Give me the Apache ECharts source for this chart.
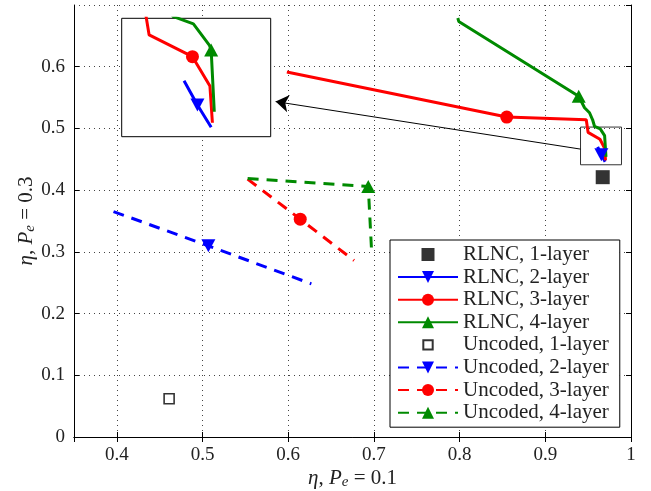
<!DOCTYPE html>
<html><head><meta charset="utf-8">
<script src="https://cdn.jsdelivr.net/npm/echarts@6/dist/echarts.min.js"></script>
<style>html,body{margin:0;padding:0;background:#fff}#c{width:651px;height:491px}</style>
</head><body><div id="c"></div>
<script>
const FONT = 'Liberation Serif';
const TXT = '#222';

// axis ranges
const xRange = [0.35, 1];
const yRange = [0, 0.7];
// zoomed inset region (data coords) and arrow annotation
const insetX = [0.9411, 0.9889];
const insetY = [0.4411, 0.5022];
const arrowFrom = [0.9411, 0.4665];
const arrowTo = [0.5853, 0.5435];

const seriesNames = ['RLNC, 1-layer', 'RLNC, 2-layer', 'RLNC, 3-layer', 'RLNC, 4-layer',
  'Uncoded, 1-layer', 'Uncoded, 2-layer', 'Uncoded, 3-layer', 'Uncoded, 4-layer'];

// data points [x, y]
const rlnc1 = [[0.967, 0.421]];
const rlnc2 = [[0.9611, 0.4700], [0.9654, 0.4575], [0.9698, 0.4460]];
const rlnc3 = [[0.5984, 0.5914], [0.855, 0.5184], [0.9478, 0.514], [0.9499, 0.4936],
  [0.9638, 0.4824], [0.9694, 0.4673], [0.9702, 0.4483]];
const rlnc4 = [[0.7979, 0.6789], [0.799, 0.6734], [0.939, 0.552], [0.9458, 0.5335],
  [0.9516, 0.5254], [0.9552, 0.514], [0.9575, 0.5032], [0.9641, 0.4993],
  [0.9692, 0.4884], [0.9698, 0.4858], [0.9708, 0.4540]];
const unc1 = [[0.461, 0.062]];
const unc2 = [[0.3961, 0.3653], [0.5068, 0.3097], [0.627, 0.2482]];
const unc3 = [[0.5526, 0.4178], [0.614, 0.353], [0.6768, 0.286]];
const unc4 = [[0.5526, 0.4188], [0.6934, 0.4059], [0.6973, 0.3005]];

// marker indices (main plot / inset)
const rlnc2MarksMain = [1], rlnc2MarksInset = [1];
const rlnc3MarksMain = [1], rlnc3MarksInset = [4];
const rlnc4MarksMain = [2], rlnc4MarksInset = [9];
const unc2Marks = [1], unc3Marks = [1], unc4Marks = [1];

const BLUE = '#0000ff', RED = '#ff0000', GREEN = '#008a00';

function lineSeries(name, data, marks, color, dashed, symbol, rotate, size, axisIdx) {
  return {
    type: 'line', name: name, xAxisIndex: axisIdx, yAxisIndex: axisIdx,
    data: data.map((p, i) => marks.indexOf(i) >= 0 ? { value: p } : { value: p, symbol: 'none' }),
    symbol: symbol, symbolRotate: rotate, symbolSize: size,
    showSymbol: true, showAllSymbol: true, clip: true,
    lineStyle: { color: color, width: 3, type: dashed ? [11, 8] : 'solid', cap: 'butt' },
    itemStyle: { color: color },
    emphasis: { disabled: true }, silent: true, animation: false
  };
}

const richName = {
  i: { fontFamily: FONT, fontSize: 21, fontStyle: 'italic', color: TXT },
  n: { fontFamily: FONT, fontSize: 21, color: TXT },
  s: { fontFamily: FONT, fontSize: 15, fontStyle: 'italic', color: TXT, padding: [9, 0, 0, 0] }
};

const splitLineStyle = { show: true, lineStyle: { color: '#444', width: 1, type: [1, 4] } };
const tickStyle = { inside: true, length: 5, lineStyle: { color: '#000', width: 1 } };
const axisLineStyle = { show: true, lineStyle: { color: '#000', width: 1 } };

const option = {
  animation: false,
  backgroundColor: '#fff',
  grid: [
    { left: 74, right: 20, top: 5, bottom: 54, show: false, containLabel: false, outerBoundsMode: 'none' },
    { left: 121.7, top: 18.3, width: 149, height: 118.4, show: true, z: 1, containLabel: false,
      outerBoundsMode: 'none', backgroundColor: '#fff', borderColor: '#000', borderWidth: 1 }
  ],
  xAxis: [
    { type: 'value', gridIndex: 0, position: 'bottom', min: xRange[0], max: xRange[1], splitNumber: 6,
      axisLine: axisLineStyle, axisTick: tickStyle, splitLine: splitLineStyle,
      axisLabel: { showMinLabel: false, fontFamily: FONT, fontSize: 19, color: TXT, margin: 9 },
      name: '{i|η}{n|, }{i|P}{s|e}{n| = 0.1}', nameLocation: 'middle', nameGap: 29,
      nameMoveOverlap: false, nameTextStyle: { rich: richName } },
    { type: 'value', gridIndex: 0, position: 'top', min: xRange[0], max: xRange[1], splitNumber: 6,
      axisLine: axisLineStyle, axisTick: tickStyle, splitLine: { show: false }, axisLabel: { show: false } },
    { type: 'value', gridIndex: 1, min: insetX[0], max: insetX[1], show: false, splitLine: { show: false } }
  ],
  yAxis: [
    { type: 'value', gridIndex: 0, position: 'left', min: yRange[0], max: yRange[1], interval: 0.1,
      axisLine: axisLineStyle, axisTick: tickStyle, splitLine: splitLineStyle,
      axisLabel: { showMaxLabel: false, fontFamily: FONT, fontSize: 19, color: TXT, margin: 9 },
      name: '{i|η}{n|, }{i|P}{s|e}{n| = 0.3}', nameLocation: 'middle', nameGap: 36,
      nameMoveOverlap: false, nameTextStyle: { rich: richName } },
    { type: 'value', gridIndex: 0, position: 'right', min: yRange[0], max: yRange[1], interval: 0.1,
      axisLine: axisLineStyle, axisTick: tickStyle, splitLine: { show: false }, axisLabel: { show: false } },
    { type: 'value', gridIndex: 1, min: insetY[0], max: insetY[1], show: false, splitLine: { show: false } }
  ],
  legend: {
    orient: 'vertical', left: 390, top: 240, itemWidth: 60, itemHeight: 15, itemGap: 1.6,
    padding: [4, 11, 4, 7], backgroundColor: '#fff', borderColor: '#000', borderWidth: 1,
    selectedMode: false,
    textStyle: { fontFamily: FONT, fontSize: 21, color: TXT },
    data: [
      { name: seriesNames[0], icon: 'path://M0,0L0,0M1,1L14,1L14,14L1,14ZM15,15L15,15' },
      seriesNames[1], seriesNames[2], seriesNames[3],
      { name: seriesNames[4], icon: 'path://M0,0L0,0M3,3L13,3L13,13L3,13ZM16,16L16,16' },
      seriesNames[5], seriesNames[6], seriesNames[7]
    ]
  },
  series: [
    { type: 'scatter', name: seriesNames[0], xAxisIndex: 0, yAxisIndex: 0, data: rlnc1,
      symbol: 'rect', symbolSize: 14, itemStyle: { color: '#000' }, silent: true,
      markArea: { silent: true, label: { show: false },
        itemStyle: { color: 'rgba(0,0,0,0)', borderColor: '#333', borderWidth: 1 },
        data: [[{ coord: [insetX[0], insetY[1]] }, { coord: [insetX[1], insetY[0]] }]] },
      markLine: { silent: true, animation: false, label: { show: false },
        lineStyle: { color: '#000', width: 1, type: 'solid' },
        data: [[{ coord: arrowFrom, symbol: 'none' }, { coord: arrowTo, symbol: 'arrow', symbolSize: 13 }]] } },
    lineSeries(seriesNames[1], rlnc2, rlnc2MarksMain, BLUE, false, 'triangle', 180, [14, 13], 0),
    lineSeries(seriesNames[2], rlnc3, rlnc3MarksMain, RED, false, 'circle', 0, 13, 0),
    lineSeries(seriesNames[3], rlnc4, rlnc4MarksMain, GREEN, false, 'triangle', 0, [14, 13], 0),
    { type: 'scatter', name: seriesNames[4], xAxisIndex: 0, yAxisIndex: 0, data: unc1,
      symbol: 'rect', symbolSize: 10, silent: true,
      itemStyle: { color: '#fff', borderColor: '#000', borderWidth: 1.6 } },
    lineSeries(seriesNames[5], unc2, unc2Marks, BLUE, true, 'triangle', 180, [14, 13], 0),
    lineSeries(seriesNames[6], unc3, unc3Marks, RED, true, 'circle', 0, 13, 0),
    lineSeries(seriesNames[7], unc4, unc4Marks, GREEN, true, 'triangle', 0, [14, 13], 0),
    // inset copies
    lineSeries('inset ' + seriesNames[1], rlnc2, rlnc2MarksInset, BLUE, false, 'triangle', 180, [14, 13], 2),
    lineSeries('inset ' + seriesNames[2], rlnc3, rlnc3MarksInset, RED, false, 'circle', 0, 13, 2),
    lineSeries('inset ' + seriesNames[3], rlnc4, rlnc4MarksInset, GREEN, false, 'triangle', 0, [14, 13], 2)
  ]
};

const chart = echarts.init(document.getElementById('c'), null, { renderer: 'canvas' });
chart.setOption(option);
</script>
</body></html>
